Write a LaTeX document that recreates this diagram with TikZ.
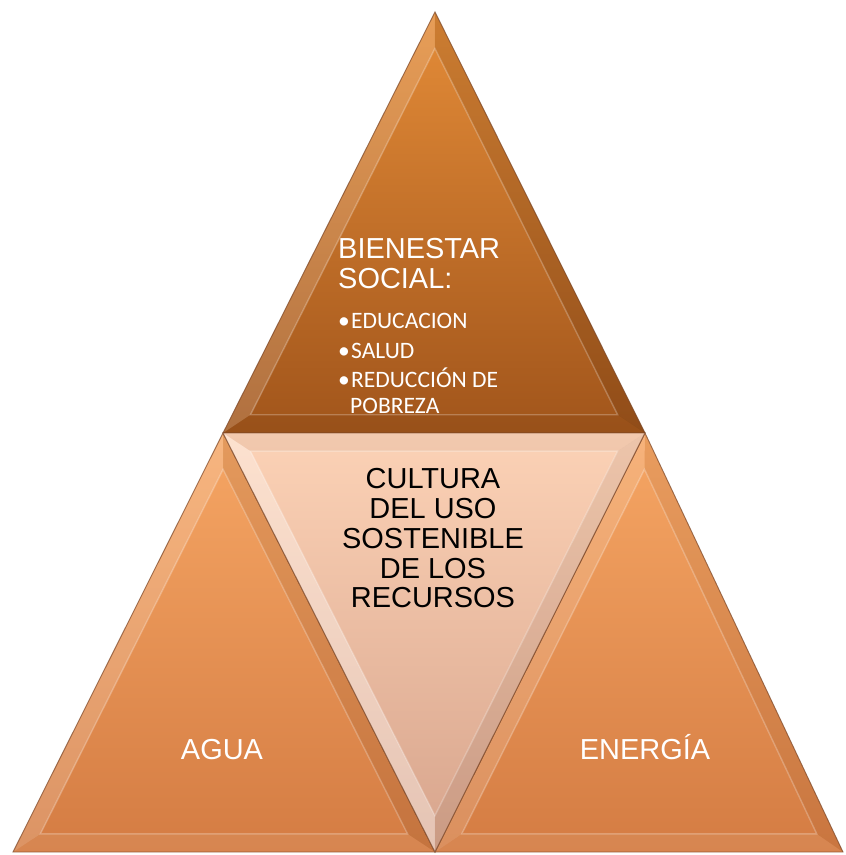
\documentclass[tikz,border=0pt]{standalone}
\usepackage{fontspec}
\setmainfont{Liberation Sans}
\newfontfamily\listfont{Carlito}
\usetikzlibrary{calc}

\definecolor{topA}{HTML}{E48C38}
\definecolor{topB}{HTML}{BC631F}
\definecolor{topC}{HTML}{A1551B}
\definecolor{midA}{HTML}{FCD2B6}
\definecolor{midB}{HTML}{F3BEA2}
\definecolor{midC}{HTML}{D7A48C}
\definecolor{sideA}{HTML}{F6A664}
\definecolor{sideB}{HTML}{E58E50}
\definecolor{sideC}{HTML}{D47C43}
\definecolor{rim}{HTML}{7A4526}

\tikzset{
  bigtext/.style={font=\fontsize{24.7}{26}\selectfont, inner sep=0pt},
  listtext/.style={font=\listfont\fontsize{20.1}{24}\selectfont, inner sep=0pt, text=white, anchor=base west},
  rimline/.style={draw=rim, draw opacity=0.7, line width=0.8pt},
}

% bevelled triangle: vertices #1 #2 #3, shading options #4,
% strip fills along edges 1-2, 2-3, 3-1 in #5, #6, #7
\newcommand\bevtri[7]{%
  \shade[#4] (#1) -- (#2) -- (#3) -- cycle;
  \coordinate (g) at (barycentric cs:#1=1,#2=1,#3=1);
  \coordinate (q1) at ($(g)!0.87!(#1)$);
  \coordinate (q2) at ($(g)!0.87!(#2)$);
  \coordinate (q3) at ($(g)!0.87!(#3)$);
  \fill[#5] (#1) -- (#2) -- (q2) -- (q1) -- cycle;
  \fill[#6] (#2) -- (#3) -- (q3) -- (q2) -- cycle;
  \fill[#7] (#3) -- (#1) -- (q1) -- (q3) -- cycle;
  \draw[white, opacity=0.25, line width=1.2pt] (q1) -- (q2) -- (q3) -- cycle;
  \draw[rimline] (#1) -- (#2) -- (#3) -- cycle;
}

\begin{document}
\begin{tikzpicture}[x=0.03cm, y=-0.03cm]
  \useasboundingbox (0,0) rectangle (846,855);

  % corner points of the four triangles
  \coordinate (A)  at (435,12);
  \coordinate (L)  at (223,433);
  \coordinate (R)  at (645,433);
  \coordinate (B)  at (435,852);
  \coordinate (BL) at (13,852);
  \coordinate (BR) at (843,852);

  % top triangle
  \bevtri{A}{L}{R}{top color=topA, middle color=topB, bottom color=topC}
    {white, opacity=0.16}{black, opacity=0.05}{black, opacity=0.10}

  % lower left triangle
  \bevtri{L}{BL}{B}{top color=sideA, middle color=sideB, bottom color=sideC}
    {white, opacity=0.18}{white, opacity=0.07}{black, opacity=0.07}

  % lower right triangle
  \bevtri{R}{B}{BR}{top color=sideA, middle color=sideB, bottom color=sideC}
    {white, opacity=0.15}{white, opacity=0.07}{black, opacity=0.05}

  % central inverted triangle
  \bevtri{L}{B}{R}{top color=midA, middle color=midB, bottom color=midC}
    {white, opacity=0.35}{black, opacity=0.06}{black, opacity=0.04}

  % top block text
  \node[bigtext, text=white, anchor=base west] (t1) at (338,258) {BIENESTAR};
  \node[bigtext, text=white, anchor=base west] (t2) at (338,288) {SOCIAL:};
  \node[listtext] (l1) at (338,328) {•\hspace{1pt}EDUCACION};
  \node[listtext] (l2) at (338,358) {•\hspace{1pt}SALUD};
  \node[listtext] (l3) at (338,387) {•\hspace{1pt}REDUCCIÓN DE};
  \node[listtext] (l4) at (350,413) {POBREZA};

  % centre text
  \node[bigtext, anchor=base] (c1) at (433,488) {CULTURA};
  \node[bigtext, anchor=base] (c2) at (433,518) {DEL USO};
  \node[bigtext, anchor=base] (c3) at (433,548) {SOSTENIBLE};
  \node[bigtext, anchor=base] (c4) at (433,578) {DE LOS};
  \node[bigtext, anchor=base] (c5) at (433,607) {RECURSOS};

  % corner labels
  \node[bigtext, text=white, anchor=base] (agua) at (222,759) {AGUA};
  \node[bigtext, text=white, anchor=base] (energia) at (645,759) {ENERGÍA};
\end{tikzpicture}
\end{document}
